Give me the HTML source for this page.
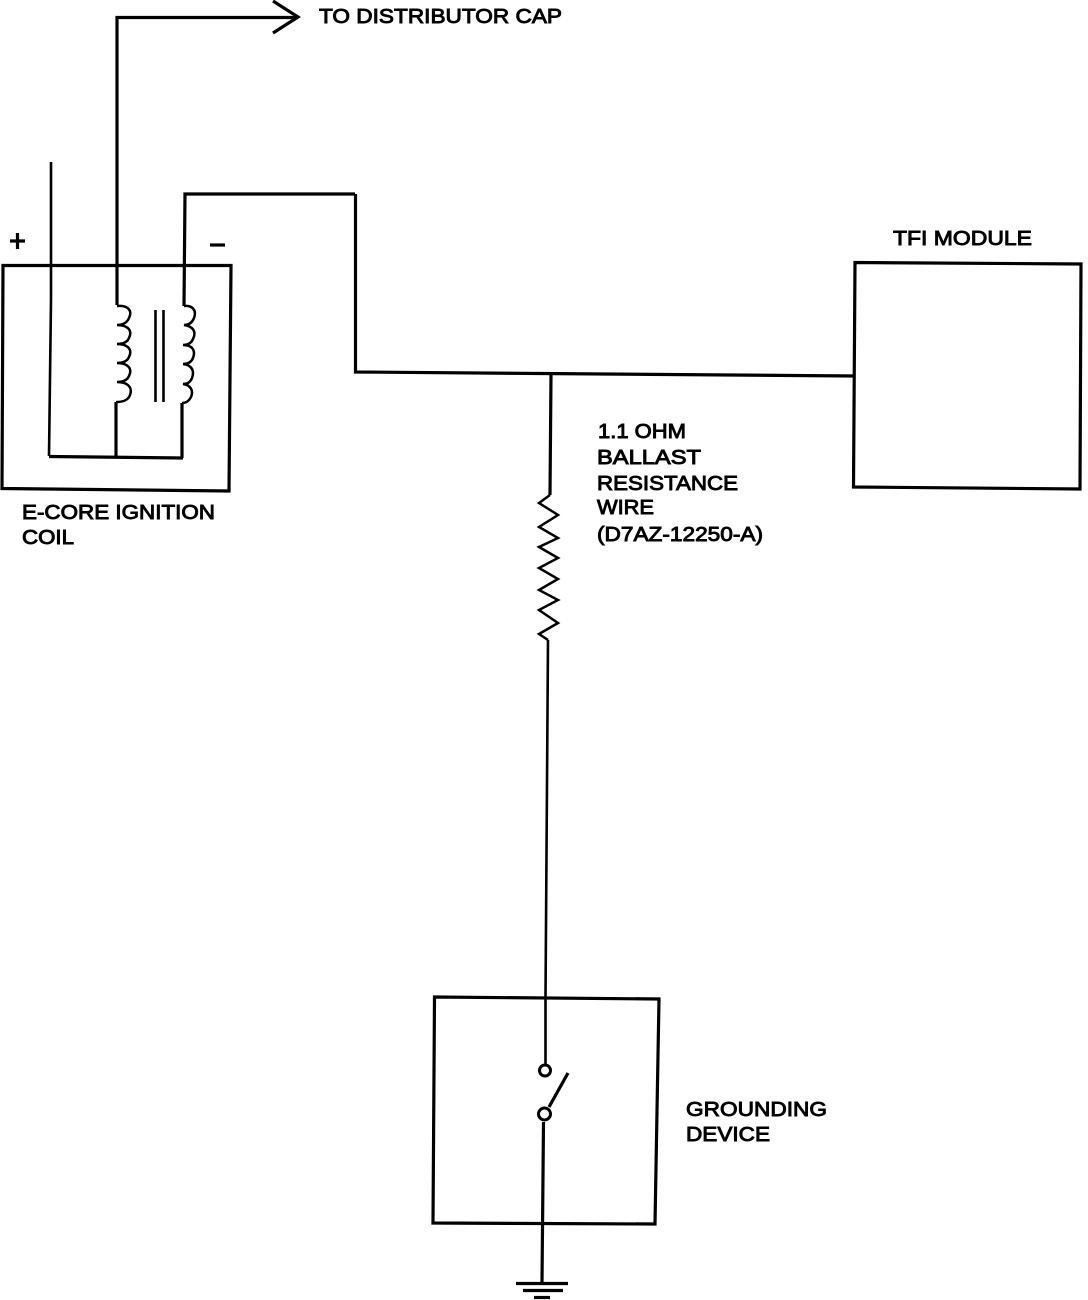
<!DOCTYPE html>
<html>
<head>
<meta charset="utf-8">
<style>
html,body{margin:0;padding:0;background:#fff;}
svg{display:block;}
text{font-family:"Liberation Sans",sans-serif;font-size:20px;fill:#000;stroke:#000;stroke-width:.9px;}
.t{fill:none;stroke:#000;stroke-width:3.2;stroke-linejoin:miter;}
.r{fill:none;stroke:#000;stroke-width:2.5;stroke-linejoin:miter;}
.n{fill:none;stroke:#000;stroke-width:2.6;}
</style>
</head>
<body>
<svg width="1088" height="1300" viewBox="0 0 1088 1300" xmlns="http://www.w3.org/2000/svg">
<!-- top arrow -->
<path class="t" d="M117 305V17.500H298"/>
<path class="t" d="M273 1L298 17L273 33"/>
<!-- coil box -->
<path class="t" d="M3 265.500H231L229 491L2 488.500Z"/>
<!-- wires in coil -->
<path class="n" d="M51 162V300L49 456"/>
<path class="t" d="M49 456.500L183 458"/>
<path class="t" d="M116 402V457"/>
<path class="t" d="M355 194H185L184 306"/>
<path class="t" d="M182 403V458"/>
<!-- windings -->
<path class="r" d="M117 306C127 305 133 310 129 318C127 323 122 325 117 325C127 325 133 330 129 338C127 343 122 344 117 344C127 344 133 349 129 357C127 362 122 363 117 363C127 363 133 368 129 376C127 381 122 382 117 382C127 382 133 387 130 395C128 401 122 402 116 402"/>
<path class="r" d="M184 306C192 305 197 310 194 318C192 323 188 325 184 325C192 326 197 331 193 339C191 344 187 345 183 345C192 345 196 350 193 358C191 363 187 364 183 364C191 365 195 370 192 378C190 383 187 384 183 384C190 385 194 390 191 397C189 401 186 403 182 403"/>
<path class="n" d="M155.500 310V402"/>
<path class="n" d="M163.500 310V402"/>
<!-- main line -->
<path class="t" d="M355.500 194V372L855 376"/>
<!-- resistor & vertical -->
<path class="t" d="M551 374L550 495"/>
<path class="r" d="M550 495L539 503L558 515L539 527L558 538L539 547L558 558L539 568L558 579L539 590L558 600L539 610L558 623L539 634L548 640"/>
<path class="n" d="M548 640L545.500 998V1064"/>
<!-- TFI box -->
<path class="t" d="M855 262.500L1081 264L1080 489L853.500 487Z"/>
<!-- grounding box -->
<path class="t" d="M434.500 997L659 999L655 1224L433 1223Z"/>
<!-- switch -->
<circle cx="545" cy="1070.500" r="5.500" fill="#fff" stroke="#000" stroke-width="3"/>
<circle cx="544.500" cy="1114" r="6" fill="#fff" stroke="#000" stroke-width="3"/>
<path class="t" d="M549 1107L568 1073"/>
<path class="t" d="M543.500 1122L542 1282"/>
<!-- ground -->
<path class="t" d="M516 1283.500H568"/>
<path class="t" d="M523 1290.500H563"/>
<path class="t" d="M534 1297.500H550"/>
<!-- signs -->
<path class="t" d="M10 241H25M17.500 233V249"/>
<path class="t" d="M210 245H225"/>
<!-- labels -->
<text x="319" y="23" textLength="243" lengthAdjust="spacingAndGlyphs">TO DISTRIBUTOR CAP</text>
<text x="893" y="245" textLength="139" lengthAdjust="spacingAndGlyphs">TFI MODULE</text>
<text x="22" y="519" textLength="193" lengthAdjust="spacingAndGlyphs">E-CORE IGNITION</text>
<text x="22" y="544" textLength="52" lengthAdjust="spacingAndGlyphs">COIL</text>
<text x="598" y="438" textLength="88" lengthAdjust="spacingAndGlyphs">1.1 OHM</text>
<text x="597" y="464" textLength="104" lengthAdjust="spacingAndGlyphs">BALLAST</text>
<text x="597" y="490" textLength="141" lengthAdjust="spacingAndGlyphs">RESISTANCE</text>
<text x="597" y="514" textLength="57" lengthAdjust="spacingAndGlyphs">WIRE</text>
<text x="597" y="541" textLength="166" lengthAdjust="spacingAndGlyphs">(D7AZ-12250-A)</text>
<text x="686" y="1116" textLength="141" lengthAdjust="spacingAndGlyphs">GROUNDING</text>
<text x="686" y="1141" textLength="84" lengthAdjust="spacingAndGlyphs">DEVICE</text>
</svg>
</body>
</html>
